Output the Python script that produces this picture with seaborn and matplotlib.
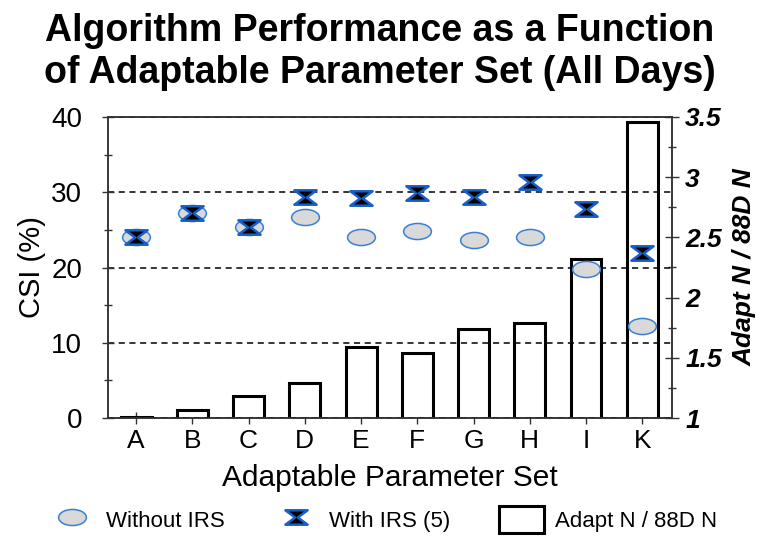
import numpy as np
import seaborn as sns
import matplotlib
matplotlib.use("Agg")
import matplotlib.pyplot as plt
from matplotlib.path import Path
from matplotlib.transforms import Affine2D
from matplotlib.lines import Line2D
from matplotlib.patches import Patch
from matplotlib.ticker import MultipleLocator

# data
param_sets = ["A", "B", "C", "D", "E", "F", "G", "H", "I", "K"]
csi_without_irs = [24.0, 27.2, 25.4, 26.7, 24.0, 24.9, 23.7, 24.0, 19.8, 12.2]
csi_with_irs = [24.0, 27.3, 25.4, 29.4, 29.2, 29.9, 29.4, 31.4, 27.8, 21.9]
adapt_ratio = [1.01, 1.07, 1.18, 1.29, 1.59, 1.54, 1.74, 1.79, 2.32, 3.46]

csi_ticks = [0, 10, 20, 30, 40]
ratio_ticks = [1, 1.5, 2, 2.5, 3, 3.5]
ratio_labels = ["1", "1.5", "2", "2.5", "3", "3.5"]

title = "Algorithm Performance as a Function\nof Adaptable Parameter Set (All Days)"

sns.set_style("ticks")
plt.rcParams["font.family"] = ["Liberation Sans", "DejaVu Sans"]
plt.rcParams["text.color"] = "black"
plt.rcParams["axes.labelcolor"] = "black"

ELLIPSE_FILL = "#d9d9d9"
ELLIPSE_EDGE = "#3a7fd6"
BOWTIE_EDGE = "#1a5fc8"

# marker shapes
ellipse = Affine2D().scale(1.0, 0.58).transform_path(Path.unit_circle())
bowtie = Path(
    [(-1, 0.65), (1, 0.65), (0.12, 0), (1, -0.65), (-1, -0.65), (-0.12, 0), (-1, 0.65)],
    [Path.MOVETO] + [Path.LINETO] * 5 + [Path.CLOSEPOLY],
)

fig = plt.figure(figsize=(7.67, 5.38), dpi=100)
ax = fig.add_axes([108 / 767, 1 - 418 / 538, (672 - 108) / 767, (418 - 117) / 538])
ax2 = ax.twinx()

# bars on the host axes (right scale), markers on the twin (left scale, drawn on top)
sns.barplot(x=param_sets, y=adapt_ratio, ax=ax, width=0.55, color="white",
            edgecolor="black", linewidth=2.2, saturation=1)

sns.stripplot(x=param_sets, y=csi_without_irs, ax=ax2, jitter=False, marker=ellipse,
              size=20, color=ELLIPSE_FILL, edgecolor=ELLIPSE_EDGE, linewidth=1.1, zorder=3)
sns.stripplot(x=param_sets, y=csi_with_irs, ax=ax2, jitter=False, marker=bowtie,
              size=16, color="black", edgecolor=BOWTIE_EDGE, linewidth=1.8, zorder=4)

ax.set_xlim(-0.5, 9.53)
ax.set_ylim(1, 3.5)
ax2.set_ylim(0, 40)

# swap sides: CSI on the left, ratio on the right
ax.yaxis.tick_right()
ax.yaxis.set_label_position("right")
ax2.yaxis.tick_left()
ax2.yaxis.set_label_position("left")

ax2.set_yticks(csi_ticks)
ax2.yaxis.set_minor_locator(MultipleLocator(5))
ax2.tick_params(axis="y", which="major", direction="inout", length=8, width=1,
                labelsize=20, pad=14.5, colors="#333333", labelcolor="black")
ax2.tick_params(axis="y", which="minor", direction="inout", length=6, width=1, colors="#333333")
ax2.grid(axis="y", which="major", linestyle=(0, (4, 3)), color="black", linewidth=1.1)
ax2.set_ylabel("CSI (%)", fontsize=21, labelpad=4)

ax.set_yticks(ratio_ticks)
ax.set_yticklabels(ratio_labels, fontsize=19, fontweight="bold", fontstyle="italic")
ax.yaxis.set_minor_locator(MultipleLocator(0.25))
ax.tick_params(axis="y", which="major", direction="inout", length=10, width=1,
               pad=4.5, colors="#333333", labelcolor="black")
ax.tick_params(axis="y", which="minor", direction="inout", length=6, width=1, colors="#333333")
ax.set_ylabel("Adapt N / 88D N", fontsize=19, fontweight="bold", fontstyle="italic", labelpad=8)

ax.tick_params(axis="x", direction="inout", length=8, width=1, labelsize=19, pad=4,
               colors="#333333", labelcolor="black")
ax.set_xlabel("Adaptable Parameter Set", fontsize=21.5, labelpad=8)
ax2.set_xlabel("")
ax.grid(False)

for a in (ax, ax2):
    for s in a.spines.values():
        s.set_color("#333333")
        s.set_linewidth(1.1)
        s.set_visible(True)

fig.text(0.495, 0.975, title, ha="center", va="top", fontsize=27, fontweight="bold")

handles = [
    Line2D([], [], linestyle="none", marker=ellipse, markersize=20,
           markerfacecolor=ELLIPSE_FILL, markeredgecolor=ELLIPSE_EDGE, markeredgewidth=1.1),
    Line2D([], [], linestyle="none", marker=bowtie, markersize=16,
           markerfacecolor="black", markeredgecolor=BOWTIE_EDGE, markeredgewidth=1.8),
    Patch(facecolor="white", edgecolor="black", linewidth=2.2),
]
fig.legend(handles, ["Without IRS", "With IRS (5)", "Adapt N / 88D N"],
           loc="center", bbox_to_anchor=(0.5, 0.034), ncol=3, frameon=False,
           fontsize=16, handlelength=2, handleheight=1.5, handletextpad=0.5,
           columnspacing=2.2)

fig.savefig("out.png", dpi=100)
